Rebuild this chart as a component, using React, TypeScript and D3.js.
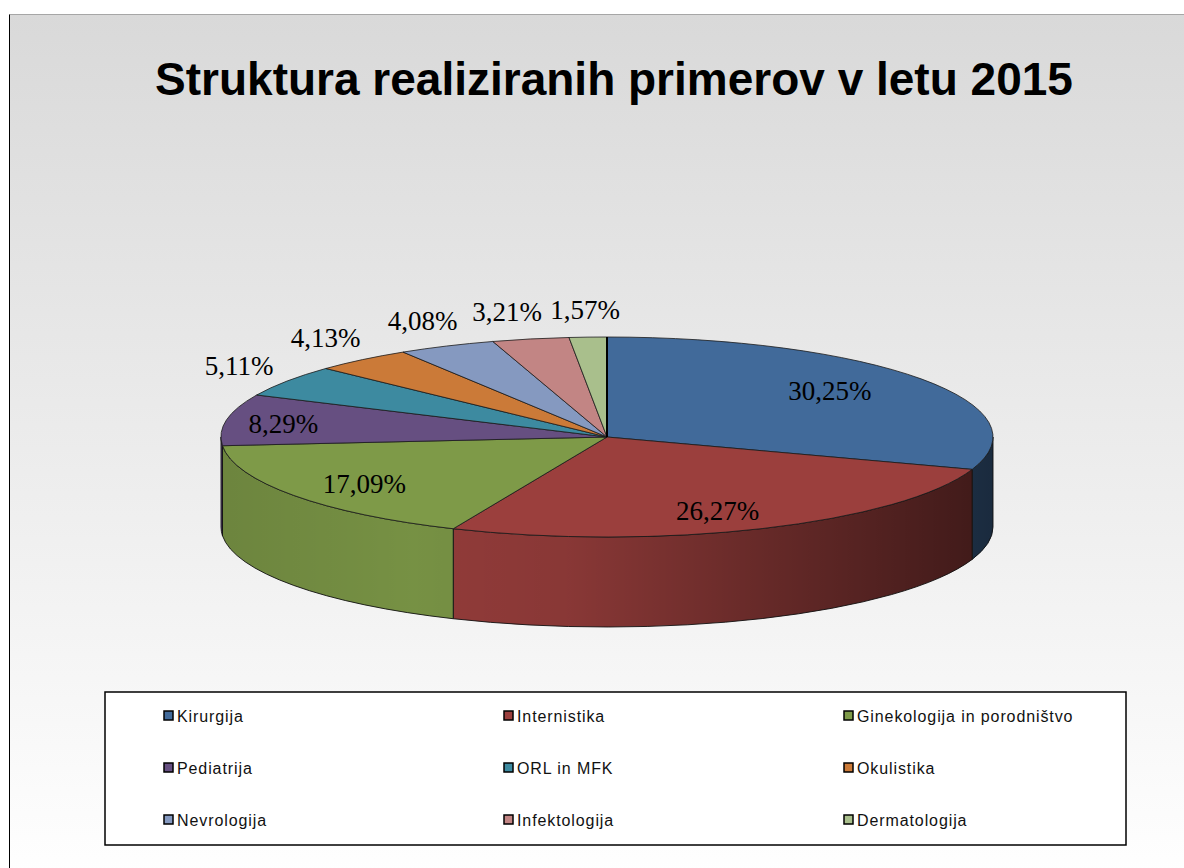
import * as d3 from "d3";

const title = "Struktura realiziranih primerov v letu 2015";
const categories = [
  "Kirurgija",
  "Internistika",
  "Ginekologija in porodništvo",
  "Pediatrija",
  "ORL in MFK",
  "Okulistika",
  "Nevrologija",
  "Infektologija",
  "Dermatologija",
];
const shares = [30.25, 26.27, 17.09, 8.29, 5.11, 4.13, 4.08, 3.21, 1.57];
const colors = [
  "#416a9a",
  "#9b3f3d",
  "#7e9a48",
  "#664f81",
  "#3d8aa0",
  "#cb7a38",
  "#8599c0",
  "#c28584",
  "#a9bf8c",
];

const W = 1184;
const H = 868;
const cx = 607;
const cy = 437;
const rx = 386;
const ry = 100;
const depth = 90;

const pt = (a: number, dy = 0): [number, number] => [
  cx + rx * Math.sin(a),
  cy - ry * Math.cos(a) + dy,
];
const fmt = (v: number) => v.toFixed(2).replace(".", ",") + "%";

export default function App() {
  const arcs = d3
    .pie<number>()
    .sort(null)
    .startAngle(0)
    .endAngle(2 * Math.PI)(shares);

  const topPath = (a0: number, a1: number) => {
    const p0 = pt(a0);
    const p1 = pt(a1);
    const large = a1 - a0 > Math.PI ? 1 : 0;
    return `M${cx},${cy}L${p0[0]},${p0[1]}A${rx},${ry} 0 ${large} 1 ${p1[0]},${p1[1]}Z`;
  };

  const sidePath = (a0: number, a1: number) => {
    const s = Math.max(a0, Math.PI / 2);
    const e = Math.min(a1, (3 * Math.PI) / 2);
    if (e <= s) return null;
    const p0 = pt(s);
    const p1 = pt(e);
    const q0 = pt(s, depth);
    const q1 = pt(e, depth);
    return `M${p0[0]},${p0[1]}A${rx},${ry} 0 0 1 ${p1[0]},${p1[1]}L${q1[0]},${q1[1]}A${rx},${ry} 0 0 0 ${q0[0]},${q0[1]}Z`;
  };

  // label positions: inside for big slices, outside above the rim for small ones
  const labels = arcs.map((d, i) => {
    const mid = (d.startAngle + d.endAngle) / 2;
    const inside = d.data > 6;
    const left = Math.max(0, -Math.sin(mid));
    const fx = inside ? 0.71 + 0.15 * Math.pow(left, 4) : 1.15;
    const fy = inside ? 0.8 : 1.28;
    return {
      i,
      x: cx + rx * fx * Math.sin(mid),
      y: cy - ry * fy * Math.cos(mid),
      inside,
    };
  });
  const lw = 78;
  for (let k = labels.length - 2; k >= 0; k--) {
    const a = labels[k];
    const b = labels[k + 1];
    if (!a.inside && !b.inside && Math.abs(a.y - b.y) < 24 && a.x > b.x - lw) {
      a.x = b.x - lw;
    }
  }

  const col = d3.scalePoint<number>().domain([0, 1, 2]).range([164, 844]);
  const row = d3.scalePoint<number>().domain([0, 1, 2]).range([716, 820]);

  return (
    <svg
      width={W}
      height={H}
      style={{ position: "absolute", left: 0, top: 0 }}
    >
      <defs>
        <linearGradient id="bg" x1="0" y1="0" x2="0" y2="1">
          <stop offset="0%" stopColor="#d9d9d9" />
          <stop offset="100%" stopColor="#ffffff" />
        </linearGradient>
        <linearGradient
          id="shade"
          gradientUnits="userSpaceOnUse"
          x1={cx - rx}
          x2={cx + rx}
          y1={0}
          y2={0}
        >
          <stop offset="0%" stopColor="#000" stopOpacity={0.14} />
          <stop offset="25%" stopColor="#000" stopOpacity={0.06} />
          <stop offset="45%" stopColor="#000" stopOpacity={0.12} />
          <stop offset="100%" stopColor="#000" stopOpacity={0.6} />
        </linearGradient>
      </defs>
      <rect x={0} y={0} width={W} height={H} fill="#fff" />
      <rect x={9.5} y={14.5} width={W} height={H} fill="url(#bg)" />
      <line x1={9.5} x2={W} y1={14.5} y2={14.5} stroke="#a6a6a6" />
      <line x1={9.5} x2={9.5} y1={14.5} y2={H} stroke="#000" />

      <text
        x={614}
        y={95}
        textAnchor="middle"
        fontFamily="'Liberation Sans', Arial, sans-serif"
        fontWeight="bold"
        fontSize={46}
        fill="#000"
      >
        {title}
      </text>

      {/* sides */}
      {arcs.map((d, i) => {
        const p = sidePath(d.startAngle, d.endAngle);
        if (!p) return null;
        return (
          <g key={"s" + i}>
            <path d={p} fill={colors[i]} />
            <path d={p} fill="url(#shade)" stroke="#111" strokeWidth={0.9} />
          </g>
        );
      })}

      {/* tops */}
      {arcs.map((d, i) => (
        <path
          key={"t" + i}
          d={topPath(d.startAngle, d.endAngle)}
          fill={colors[i]}
          stroke="#1a1a1a"
          strokeWidth={0.8}
          strokeLinejoin="round"
        />
      ))}
      <line
        x1={cx}
        y1={cy}
        x2={pt(0)[0]}
        y2={pt(0)[1]}
        stroke="#000"
        strokeWidth={2}
      />

      {labels.map((l) => (
        <text
          key={"l" + l.i}
          x={l.x}
          y={l.y}
          dy="0.35em"
          textAnchor="middle"
          fontFamily="'Liberation Serif', 'Times New Roman', serif"
          fontSize={27}
          fill="#000"
        >
          {fmt(shares[l.i])}
        </text>
      ))}

      {/* legend */}
      <rect
        x={105}
        y={692}
        width={1021}
        height={153}
        fill="#fff"
        stroke="#000"
        strokeWidth={1.5}
      />
      {categories.map((c, i) => {
        const x = col(i % 3)!;
        const y = row(Math.floor(i / 3))!;
        return (
          <g key={"g" + i}>
            <rect
              x={x}
              y={y - 5}
              width={9}
              height={9}
              fill={colors[i]}
              stroke="#000"
              strokeWidth={1.5}
            />
            <text
              x={x + 13}
              y={y}
              dy="0.35em"
              fontFamily="'Liberation Sans', Arial, sans-serif"
              fontSize={16}
              letterSpacing={0.9}
              fill="#111"
            >
              {c}
            </text>
          </g>
        );
      })}
    </svg>
  );
}
